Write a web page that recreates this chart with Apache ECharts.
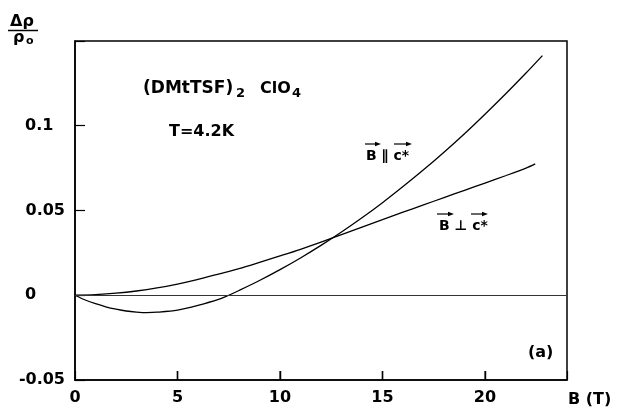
<!DOCTYPE html>
<html>
<head>
<meta charset="utf-8">
<script src="https://cdn.jsdelivr.net/npm/echarts@6/dist/echarts.min.js"></script>
<style>html,body{margin:0;padding:0;background:#fff;}#c{width:618px;height:409px;}</style>
</head>
<body>
<div id="c"></div>
<script>
// B parallel c* curve
const bPar = [0, 0.5, 1, 1.5, 2, 2.5, 3, 3.5, 4, 5, 6, 7, 7.5, 8, 9, 10, 11, 12, 13, 14, 15, 16, 17, 18, 19, 20, 21, 22, 22.8];
const rhoPar = [0, -0.0028, -0.0050, -0.0068, -0.0082, -0.0093, -0.0099, -0.0102, -0.0100, -0.0088, -0.0060, -0.0025, 0, 0.0028, 0.0087, 0.0151, 0.0220, 0.0294, 0.0373, 0.0457, 0.0546, 0.0641, 0.0740, 0.0844, 0.0953, 0.1068, 0.1187, 0.1311, 0.1414];
// B perpendicular c* curve
const bPerp = [0, 1, 2, 3, 4, 5, 6, 7, 8, 9, 10, 11, 12, 13, 14, 15, 16, 17, 18, 19, 20, 21, 22, 22.45];
const rhoPerp = [0, 0.0004, 0.0012, 0.0025, 0.0043, 0.0066, 0.0094, 0.0124, 0.0157, 0.0194, 0.0232, 0.0271, 0.0313, 0.0358, 0.0402, 0.0446, 0.0490, 0.0533, 0.0576, 0.0619, 0.0662, 0.0705, 0.0750, 0.0775];
// tick labels
const xTickLabels = ['0', '5', '10', '15', '20'];
const yTickLabels = {'-5': '-0.05', '0': '0', '5': '0.05', '10': '0.1'};
const yMin = -0.05;
const tickLen = 0.0053;

const FONT = '"DejaVu Sans", sans-serif';
const chart = echarts.init(document.getElementById('c'), null, {renderer: 'canvas'});

function pairs(xs, ys) { return xs.map((x, i) => [x, ys[i]]); }
function arrow(x1, x2, y) {
  return {type: 'group', children: [
    {type: 'line', shape: {x1: x1, y1: y, x2: x2 - 4, y2: y}, style: {stroke: '#000', lineWidth: 1.2}},
    {type: 'polygon', shape: {points: [[x2, y], [x2 - 6, y - 2.3], [x2 - 6, y + 2.3]]}, style: {fill: '#000'}}
  ]};
}
function txt(x, y, s, size, extra) {
  return Object.assign({type: 'text', x: x, y: y, style: {text: s, fill: '#000', fontSize: size, fontWeight: 'bold', fontFamily: FONT, verticalAlign: 'middle', align: 'left'}}, extra || {});
}

const tickSegments = xTickLabels.filter(v => +v > 0).map(v => [
  {coord: [+v, yMin], lineStyle: {color: '#000', width: 1.3}},
  {coord: [+v, yMin + tickLen]}
]);

const option = {
  animation: false,
  backgroundColor: '#fff',
  grid: {left: 75, right: 51, top: 41, bottom: 29, show: true, borderColor: '#000', borderWidth: 1.5},
  xAxis: {
    type: 'value', min: 0, max: 24, interval: 5,
    name: 'B (T)', nameLocation: 'end', nameGap: 1,
    nameTextStyle: {fontSize: 16, fontWeight: 'bold', fontFamily: FONT, color: '#000', align: 'left', verticalAlign: 'top', padding: [12, 0, 0, 0]},
    axisLine: {show: true, onZero: false, lineStyle: {color: '#000', width: 1.5}},
    axisTick: {show: true, inside: true, length: 9, lineStyle: {color: '#000', width: 1.2}},
    axisLabel: {margin: 10, color: '#000', fontSize: 16, fontWeight: 'bold', fontFamily: FONT,
      formatter: v => (v % 5 === 0 && xTickLabels.indexOf(String(v)) >= 0) ? String(v) : ''},
    splitLine: {show: false}
  },
  yAxis: {
    type: 'value', min: yMin, max: 0.15, interval: 0.05,
    axisLine: {show: true, onZero: false, lineStyle: {color: '#000', width: 1.5}},
    axisTick: {show: true, inside: true, length: 10, lineStyle: {color: '#000', width: 1.2}},
    axisLabel: {margin: 10, align: 'right', color: '#000', fontSize: 16, fontWeight: 'bold', fontFamily: FONT,
      formatter: v => {
        const k = String(Math.round(v * 100));
        const s = yTickLabels[k];
        if (!s) return '';
        if (s === '0.1' || s === '0') return '{w|' + s + '}';
        return s;
      },
      rich: {w: {width: 40, align: 'left', fontSize: 16, fontWeight: 'bold', fontFamily: FONT, color: '#000'}}
    },
    splitLine: {show: false}
  },
  series: [
    {type: 'line', name: 'B||c*', data: pairs(bPar, rhoPar), smooth: 0.3, symbol: 'none',
      lineStyle: {color: '#000', width: 1.3},
      markLine: {silent: true, symbol: 'none', label: {show: false}, animation: false,
        data: [{yAxis: 0}].concat(tickSegments),
        lineStyle: {color: '#333', width: 1, type: 'solid'}}},
    {type: 'line', name: 'B⊥c*', data: pairs(bPerp, rhoPerp), smooth: 0.3, symbol: 'none',
      lineStyle: {color: '#000', width: 1.3}},
    // inward x-axis tick marks at the tick values
    {type: 'scatter', name: 'xticks', silent: true, z: 5, clip: false,
      data: xTickLabels.filter(v => +v > 0).map(v => [+v, yMin]),
      symbol: 'rect', symbolSize: [1.3, 9], symbolOffset: [0, -4.5],
      itemStyle: {color: '#000'}}
  ],
  graphic: [
    txt(10, 22, 'Δρ', 16),
    {type: 'line', shape: {x1: 8, y1: 30.5, x2: 38, y2: 30.5}, style: {stroke: '#000', lineWidth: 1.5}},
    txt(13, 38, 'ρ', 16),
    txt(26, 41, 'o', 11),
    txt(143, 89, '(DMtTSF)', 17),
    txt(236, 94, '2', 13),
    txt(260, 89, 'ClO', 16),
    txt(292, 94, '4', 13),
    txt(169, 132, 'T=4.2K', 16),
    txt(366, 156, 'B ∥ c*', 14),
    arrow(365, 381, 144),
    arrow(394, 412, 144),
    txt(439, 226, 'B ⊥ c*', 14),
    arrow(437, 454, 214),
    arrow(471, 488, 214),
    txt(528, 353, '(a)', 16)
  ]
};
chart.setOption(option);
</script>
</body>
</html>
